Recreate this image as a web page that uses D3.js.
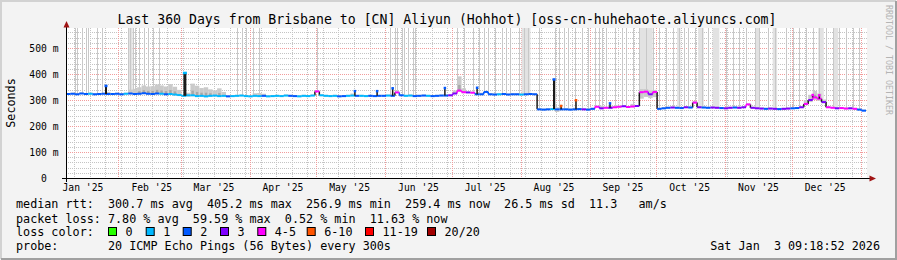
<!DOCTYPE html>
<html>
<head>
<meta charset="utf-8">
<script src="https://cdn.jsdelivr.net/npm/d3@7/dist/d3.min.js"></script>
<style>
  body { margin: 0; background: #f3f3f3; }
  svg text { font-family: "DejaVu Sans Mono", monospace; white-space: pre; }
</style>
</head>
<body>
<svg id="chart" width="897" height="260"></svg>
<script>
// one sample every 2 days, the last 360 days up to the graph time
const endTime = Date.UTC(2026, 0, 3, 9, 18, 52);
const spanDays = 360;
const stepDays = 2;

// median rtt (ms) per sample
const medianMs = [
  323, 324, 322, 325, 323, 324, 322, 323, 324, 323,
  323, 324, 322, 324, 325, 323, 324, 326, 324, 323,
  325, 324, 322, 323, 321, 319, 316, 318, 318, 315,
  316, 314, 316, 317, 315, 316, 314, 315, 316, 317,
  315, 314, 316, 315, 316, 314, 315, 316, 315, 317,
  316, 315, 314, 316, 315, 317, 333, 318, 316, 315,
  316, 314, 315, 316, 317, 316, 316, 315, 316, 315,
  316, 316, 317, 316, 329, 318, 316, 317, 315, 316,
  317, 316, 315, 316, 317, 317, 318, 325, 336, 330,
  329, 328, 322, 322, 331, 322, 321, 322, 323, 321,
  322, 322, 321, 322, 323, 322, 264, 263, 264, 265,
  264, 264, 264, 263, 264, 265, 264, 263, 266, 274,
  268, 270, 270, 272, 274, 276, 273, 275, 277, 330,
  332, 322, 331, 266, 268, 270, 271, 270, 269, 272,
  271, 290, 272, 271, 270, 271, 270, 269, 268, 270,
  271, 270, 272, 283, 270, 268, 267, 266, 267, 266,
  265, 266, 267, 268, 269, 272, 285, 300, 310, 305,
  292, 272, 270, 268, 269, 267, 268, 266, 263, 259,
];

// loss class per sample (index into lossLabels)
const lossIdx = [
  2, 2, 2, 2, 2, 1, 2, 2, 2, 2,
  2, 2, 2, 1, 2, 2, 2, 2, 2, 2,
  2, 1, 2, 1, 1, 1, 1, 1, 1, 1,
  1, 1, 1, 1, 1, 1, 2, 1, 1, 1,
  1, 1, 1, 1, 2, 1, 1, 1, 1, 1,
  2, 2, 1, 1, 1, 1, 4, 1, 1, 1,
  1, 2, 2, 1, 1, 2, 1, 1, 2, 2,
  2, 2, 1, 2, 4, 2, 1, 1, 2, 2,
  2, 1, 2, 2, 2, 2, 3, 3, 4, 4,
  3, 4, 2, 2, 2, 2, 2, 1, 2, 2,
  2, 2, 1, 2, 2, 2, 2, 2, 2, 1,
  2, 2, 2, 2, 2, 2, 3, 2, 2, 4,
  3, 4, 3, 4, 4, 3, 4, 4, 3, 4,
  4, 3, 4, 2, 2, 2, 3, 2, 2, 3,
  2, 4, 3, 2, 2, 3, 3, 2, 3, 3,
  2, 3, 3, 4, 3, 3, 3, 2, 3, 3,
  2, 3, 3, 2, 2, 3, 4, 3, 4, 4,
  3, 4, 4, 3, 4, 4, 3, 4, 2, 2,
];

// short spikes of the median: [day from start, peak ms, loss class, width px]
const spikes = [
  [18, 355, 2, 2], [53.5, 405, 1, 3], [130, 335, 2, 1.5], [140, 335, 2, 1.5],
  [147, 346, 2, 1.5], [170.5, 347, 2, 1.5], [185, 348, 2, 1.5], [219.6, 380, 2, 2],
  [222.8, 278, 5, 1.5], [229.5, 300, 5, 1.5], [244.8, 288, 2, 1.5],
  [336, 320, 4, 1.5], [339, 319, 4, 1.5],
];

// smoke spread (ms above / below the median) where it is wider than usual
const smokeDefault = [4, 2];
const smokeWide = [
  [9, 8, 2], [14, 15, 3], [15, 20, 3], [16, 25, 3], [17, 30, 3], [18, 28, 3],
  [19, 30, 3], [20, 35, 3], [21, 32, 3], [22, 30, 3], [23, 38, 3], [24, 30, 3],
  [25, 20, 3], [27, 10, 5], [28, 45, 3], [29, 40, 3], [30, 30, 3], [31, 35, 3],
  [32, 25, 3], [33, 20, 3], [34, 30, 3], [35, 15, 3], [42, 10, 2], [43, 12, 2],
  [44, 8, 2], [64, 8, 2], [73, 6, 2], [87, 12, 2], [88, 55, 4], [89, 15, 4],
  [93, 6, 3], [110, 8, 10], [114, 6, 3], [120, 10, 3], [122, 8, 3], [127, 10, 3],
  [129, 12, 25], [130, 10, 20], [131, 15, 15], [132, 8, 20], [141, 6, 3],
  [166, 15, 5], [167, 20, 8], [168, 25, 10], [169, 20, 8], [170, 10, 5],
];

// days (from graph start) where the smoke goes off the top of the graph
const offScaleDays = [
  4, 5, 7, 9, 10, 14, 16, 28, 29, 30, 31, 33, 35, 37, 39, 42,
  77, 79, 81, 84, 87, 113, 146, 148, 149, 151, 152, 154, 156, 157,
  176, 179, 183, 186, 188, 190, 193, 196, 198, 200, 204, 206, 208, 213,
  220, 222, 224, 226, 229, 232, 235, 238, 240, 241, 243, 247, 250, 252,
  255, 258, 261, 264, 267, 270, 273, 276, 278, 280, 283, 286, 289, 297,
  300, 303, 306, 310, 312, 316, 319, 324, 327, 330, 333, 336, 339, 342,
  345, 348, 351, 354, 357,
];
const offScaleBands = [
  [28, 30], [205, 209], [258, 264], [275, 276.5], [284.5, 287], [291, 294],
  [310.5, 312], [318, 320], [338.5, 341], [345.5, 347.5],
];

const lossLabels = ['0', '1', '2', '3', '4-5', '6-10', '11-19', '20/20'];
const lossColors = ['#26ff00', '#00b8ff', '#0059ff', '#7e00ff', '#ff00ff', '#ff5500', '#ff0000', '#a10000'];
const yTicks = [0, 100, 200, 300, 400, 500];

const titleText = 'Last 360 Days from Brisbane to [CN] Aliyun (Hohhot) [oss-cn-huhehaote.aliyuncs.com]';
const legendLines = [
  'median rtt:  300.7 ms avg  405.2 ms max  256.9 ms min  259.4 ms now  26.5 ms sd  11.3   am/s',
  'packet loss: 7.80 % avg  59.59 % max  0.52 % min  11.63 % now',
  'loss color:',
  'probe:       20 ICMP Echo Pings (56 Bytes) every 300s',
];
const stampText = 'Sat Jan  3 09:18:52 2026';

// layout
const W = 897;
const H = 260;
const plot = { left: 66, right: 866, top: 28, bottom: 178 };
const lossBoxX = [108, 145.7, 182.7, 220, 257.3, 306.7, 365, 427];
const legendBaseY = [208, 222.5, 236, 250];
const legendFont = '11.75px';
const DAY = 864e5;

const startTime = endTime - spanDays * DAY;
const svg = d3.select('#chart');

const x = d3.scaleUtc()
  .domain([startTime, endTime])
  .range([plot.left, plot.right]);
const y = d3.scaleLinear()
  .domain([0, (plot.bottom - plot.top) / 0.26])
  .range([plot.bottom, plot.top]);

const samples = medianMs.map((ms, i) => ({
  t0: startTime + i * stepDays * DAY,
  t1: startTime + (i + 1) * stepDays * DAY,
  ms,
  loss: lossIdx[i],
  up: smokeDefault[0],
  down: smokeDefault[1],
}));
smokeWide.forEach(([i, up, down]) => {
  samples[i].up = up;
  samples[i].down = down;
});
const medianAtDay = (day) => samples[Math.min(samples.length - 1, Math.floor(day / stepDays))].ms;
const dayX = (day) => x(startTime + day * DAY);

// background and frame
svg.append('rect').attr('width', W).attr('height', H).attr('fill', '#f3f3f3');
svg.append('path')
  .attr('d', `M1,${H - 1}V1H${W - 1}`)
  .attr('fill', 'none').attr('stroke', '#d2d2d2').attr('stroke-width', 2);
svg.append('path')
  .attr('d', `M1,${H - 1}H${W - 1}V1`)
  .attr('fill', 'none').attr('stroke', '#a0a0a0').attr('stroke-width', 2);
svg.append('rect')
  .attr('x', plot.left).attr('y', plot.top)
  .attr('width', plot.right - plot.left + 1).attr('height', plot.bottom - plot.top)
  .attr('fill', '#fff');

// grid
const grid = svg.append('g').attr('shape-rendering', 'crispEdges');
const minorY = d3.range(20, y.domain()[1], 20).filter((v) => v % 100 !== 0);
grid.selectAll('.hminor')
  .data(minorY)
  .enter()
  .append('line')
  .attr('x1', plot.left).attr('x2', plot.right + 1)
  .attr('y1', (d) => Math.round(y(d)) + 0.5).attr('y2', (d) => Math.round(y(d)) + 0.5)
  .attr('stroke', '#c4c4c4').attr('stroke-dasharray', '1,1');
grid.selectAll('.vminor')
  .data(d3.utcSunday.range(new Date(startTime), new Date(endTime)))
  .enter()
  .append('line')
  .attr('x1', (d) => Math.round(x(d)) + 0.5).attr('x2', (d) => Math.round(x(d)) + 0.5)
  .attr('y1', plot.top).attr('y2', plot.bottom)
  .attr('stroke', '#c4c4c4').attr('stroke-dasharray', '1,1');
grid.selectAll('.hmajor')
  .data(yTicks.filter((v) => v > 0))
  .enter()
  .append('line')
  .attr('x1', plot.left).attr('x2', plot.right + 1)
  .attr('y1', (d) => Math.round(y(d)) + 0.5).attr('y2', (d) => Math.round(y(d)) + 0.5)
  .attr('stroke', '#f29c9c').attr('stroke-dasharray', '1,1');
grid.selectAll('.vmajor')
  .data(d3.utcMonth.range(new Date(startTime), new Date(endTime)))
  .enter()
  .append('line')
  .attr('x1', (d) => Math.round(x(d)) + 0.5).attr('x2', (d) => Math.round(x(d)) + 0.5)
  .attr('y1', plot.top).attr('y2', plot.bottom)
  .attr('stroke', '#f29c9c').attr('stroke-dasharray', '1,1');

// smoke going off the top
const smoke = svg.append('g');
smoke.selectAll('.band')
  .data(offScaleBands)
  .enter()
  .append('rect')
  .attr('x', (d) => dayX(d[0]))
  .attr('width', (d) => dayX(d[1]) - dayX(d[0]))
  .attr('y', plot.top)
  .attr('height', (d) => y(medianAtDay(d[0])) - plot.top)
  .attr('fill', '#e2e2e2');
smoke.selectAll('.off')
  .data(offScaleDays)
  .enter()
  .append('line')
  .attr('x1', (d) => Math.round(dayX(d)) + 0.5)
  .attr('x2', (d) => Math.round(dayX(d)) + 0.5)
  .attr('y1', plot.top)
  .attr('y2', (d) => y(medianAtDay(d)))
  .attr('stroke', '#c8c8c8');

// smoke around the median
smoke.selectAll('.spread')
  .data(samples)
  .enter()
  .append('rect')
  .attr('x', (d) => x(d.t0))
  .attr('width', (d) => x(d.t1) - x(d.t0))
  .attr('y', (d) => y(d.ms + d.up))
  .attr('height', (d) => y(d.ms - d.down) - y(d.ms + d.up))
  .attr('fill', '#cacaca');
smoke.selectAll('.core')
  .data(samples.filter((d) => d.up > 20))
  .enter()
  .append('rect')
  .attr('x', (d) => x(d.t0) + 1)
  .attr('width', (d) => x(d.t1) - x(d.t0) - 2)
  .attr('y', (d) => y(d.ms + d.up * 0.4))
  .attr('height', (d) => y(d.ms) - y(d.ms + d.up * 0.4))
  .attr('fill', '#a8a8a8');

// median, big steps dark, level parts in loss colour
const med = svg.append('g');
med.selectAll('.step')
  .data(samples.slice(1))
  .enter()
  .append('line')
  .attr('x1', (d) => x(d.t0)).attr('x2', (d) => x(d.t0))
  .attr('y1', (d, i) => y(samples[i].ms))
  .attr('y2', (d) => y(d.ms))
  .attr('stroke', (d, i) => (Math.abs(d.ms - samples[i].ms) > 12 ? '#1a1a1a' : lossColors[d.loss]))
  .attr('stroke-width', 1.5);
med.selectAll('.level')
  .data(samples)
  .enter()
  .append('line')
  .attr('x1', (d) => x(d.t0)).attr('x2', (d) => x(d.t1))
  .attr('y1', (d) => y(d.ms)).attr('y2', (d) => y(d.ms))
  .attr('stroke', (d) => lossColors[d.loss])
  .attr('stroke-width', 2);
med.selectAll('.spike')
  .data(spikes)
  .enter()
  .append('line')
  .attr('x1', (d) => dayX(d[0])).attr('x2', (d) => dayX(d[0]))
  .attr('y1', (d) => y(medianAtDay(d[0])))
  .attr('y2', (d) => y(d[1]))
  .attr('stroke', '#1a1a1a')
  .attr('stroke-width', (d) => d[3]);
med.selectAll('.cap')
  .data(spikes)
  .enter()
  .append('rect')
  .attr('x', (d) => dayX(d[0]) - d[3] / 2 - 0.5)
  .attr('width', (d) => d[3] + 1)
  .attr('y', (d) => y(d[1]) - 1)
  .attr('height', 2.5)
  .attr('fill', (d) => lossColors[d[2]]);

// axes
const axisColor = '#000';
const arrowColor = '#a01414';
svg.append('line')
  .attr('x1', 62).attr('x2', 871)
  .attr('y1', plot.bottom + 0.5).attr('y2', plot.bottom + 0.5)
  .attr('stroke', axisColor);
svg.append('line')
  .attr('x1', plot.left + 0.5).attr('x2', plot.left + 0.5)
  .attr('y1', plot.bottom + 4).attr('y2', plot.top - 2)
  .attr('stroke', axisColor);
svg.append('path')
  .attr('d', `M${plot.left + 0.5},21L${plot.left - 2.5},27.5H${plot.left + 3.5}Z`)
  .attr('fill', arrowColor);
svg.append('path')
  .attr('d', `M876,${plot.bottom + 0.5}L869.5,${plot.bottom - 2.5}V${plot.bottom + 3.5}Z`)
  .attr('fill', arrowColor);

svg.selectAll('.ytick')
  .data(yTicks)
  .enter()
  .append('text')
  .attr('x', 58.5)
  .attr('y', (d) => y(d) + 3.5)
  .attr('text-anchor', 'end')
  .attr('font-size', '9.7px')
  .attr('fill', '#000')
  .text((d) => (d === 0 ? '0  ' : `${d} m`));

const monthLabels = d3.utcMonth
  .range(d3.utcMonth.floor(new Date(startTime)), new Date(endTime))
  .filter((m) => x(+m + 15 * DAY) > plot.left && x(+m + 15 * DAY) < plot.right - 20);
svg.selectAll('.xtick')
  .data(monthLabels)
  .enter()
  .append('text')
  .attr('x', (d) => x(+d + 15 * DAY))
  .attr('y', 191)
  .attr('text-anchor', 'middle')
  .attr('font-size', '9.7px')
  .attr('fill', '#000')
  .text((d) => d3.utcFormat("%b '%y")(d));

// titles
svg.append('text')
  .attr('x', 447).attr('y', 23.5)
  .attr('text-anchor', 'middle')
  .attr('font-size', '13.2px')
  .attr('fill', '#000')
  .text(titleText);
svg.append('text')
  .attr('transform', 'translate(14.5,103) rotate(-90)')
  .attr('text-anchor', 'middle')
  .attr('font-size', legendFont)
  .attr('fill', '#000')
  .text('Seconds');
svg.append('text')
  .attr('transform', 'translate(886,5) rotate(90)')
  .attr('font-size', '8.3px')
  .attr('fill', '#b4b4b4')
  .text('RRDTOOL / TOBI OETIKER');

// legend
svg.selectAll('.legend')
  .data(legendLines)
  .enter()
  .append('text')
  .attr('x', 16)
  .attr('y', (d, i) => legendBaseY[i])
  .attr('font-size', legendFont)
  .attr('fill', '#000')
  .text((d) => d);

const lossKey = svg.append('g');
lossKey.selectAll('rect')
  .data(lossLabels)
  .enter()
  .append('rect')
  .attr('x', (d, i) => lossBoxX[i] + 0.5)
  .attr('y', 227.5)
  .attr('width', 8)
  .attr('height', 8)
  .attr('fill', (d, i) => lossColors[i])
  .attr('stroke', '#000');
lossKey.selectAll('text')
  .data(lossLabels)
  .enter()
  .append('text')
  .attr('x', (d, i) => lossBoxX[i] + 17.5)
  .attr('y', legendBaseY[2])
  .attr('font-size', legendFont)
  .attr('fill', '#000')
  .text((d) => d);

svg.append('text')
  .attr('x', 880).attr('y', legendBaseY[3])
  .attr('text-anchor', 'end')
  .attr('font-size', legendFont)
  .attr('fill', '#000')
  .text(stampText);
</script>
</body>
</html>
